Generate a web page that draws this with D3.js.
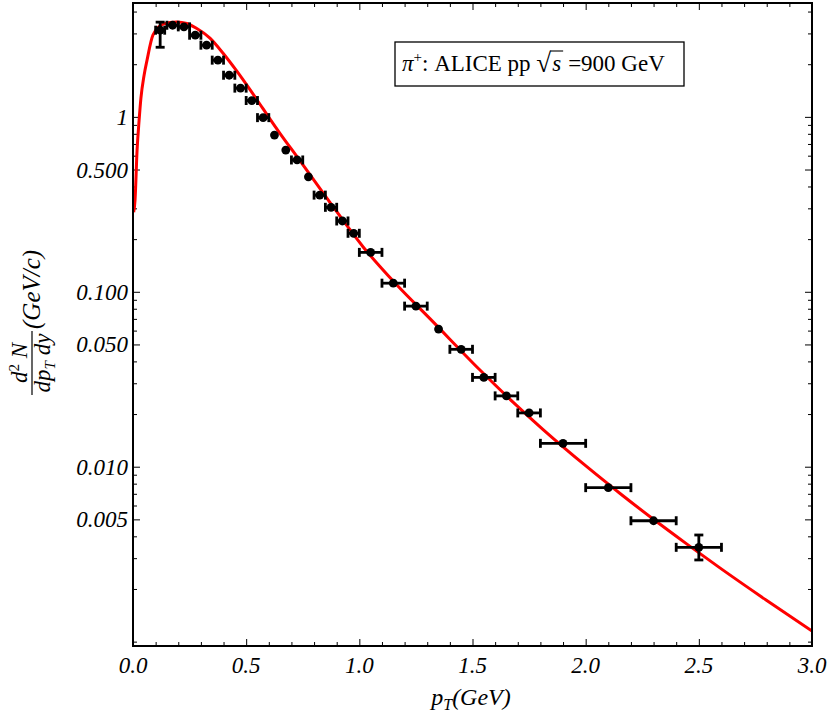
<!DOCTYPE html>
<html>
<head>
<meta charset="utf-8">
<script src="https://cdn.jsdelivr.net/npm/d3@7"></script>
<style>
  body { margin: 0; background: #fff; }
  text { font-family: "Liberation Serif", "Times New Roman", serif; white-space: pre; }
</style>
</head>
<body>
<script>

// ALICE pi+ points
var pTData   = [0.12, 0.175, 0.225, 0.275, 0.325, 0.375, 0.425, 0.475, 0.525, 0.575,
                0.625, 0.675, 0.725, 0.775, 0.825, 0.875, 0.925, 0.975,
                1.05, 1.15, 1.25, 1.35, 1.45, 1.55, 1.65, 1.75, 1.9, 2.1, 2.3, 2.5];
var yieldData = [3.13, 3.34, 3.27, 2.93, 2.57, 2.11, 1.73, 1.46, 1.24, 0.99,
                 0.787, 0.646, 0.567, 0.454, 0.357, 0.304, 0.254, 0.216,
                 0.168, 0.112, 0.0828, 0.0612, 0.0469, 0.0324, 0.0254, 0.0203, 0.0136, 0.00759, 0.00491, 0.00346];
var pTErr    = [0.02, 0.025, 0.025, 0.025, 0.025, 0.025, 0.025, 0.025, 0.025, 0.025,
                0, 0, 0.025, 0, 0.025, 0.025, 0.025, 0.025,
                0.05, 0.05, 0.05, 0, 0.05, 0.05, 0.05, 0.05, 0.1, 0.1, 0.1, 0.1];
// vertical error ends (only two are visible)
var yieldLo  = {0: 2.50, 29: 0.00293};
var yieldHi  = {0: 3.48, 29: 0.00407};

// fitted curve
var curvePT = [0.003, 0.009, 0.018, 0.027, 0.035, 0.049, 0.062, 0.088, 0.133, 0.193,
               0.238, 0.282, 0.340, 0.398, 0.458, 0.517, 0.575, 0.650, 0.723, 0.782,
               0.870, 1.016, 1.165, 1.313, 1.533, 1.679, 1.812, 2.005, 2.152, 2.298,
               2.446, 2.593, 2.797, 3.0];
var curveY  = [0.285, 0.334, 0.645, 0.957, 1.28, 1.73, 2.11, 2.93, 3.39, 3.49,
               3.42, 3.20, 2.82, 2.31, 1.83, 1.43, 1.11, 0.803, 0.596, 0.468,
               0.325, 0.181, 0.1096, 0.0700, 0.0357, 0.0234, 0.0163, 0.0100, 0.00703, 0.00502,
               0.00362, 0.00264, 0.00173, 0.00115];

// ticks
var xMajor = [0, 0.5, 1.0, 1.5, 2.0, 2.5, 3.0];
var xMinor = d3.range(1, 30).map(function (i) { return i / 10; }).filter(function (v) { return Math.round(v * 10) % 5 != 0; });
var yMajor = [1, 0.5, 0.1, 0.05, 0.01, 0.005];
var yMajorLabels = ["1", "0.500", "0.100", "0.050", "0.010", "0.005"];
var yMinor = [0.001, 0.002, 0.003, 0.004, 0.006, 0.007, 0.008, 0.009,
              0.02, 0.03, 0.04, 0.06, 0.07, 0.08, 0.09,
              0.2, 0.3, 0.4, 0.6, 0.7, 0.8, 0.9, 2, 3, 4];

var W = 830, H = 723;
var L = 133, R = 812, T = 3, B = 646;

var svg = d3.select('body').append('svg')
  .attr('width', W)
  .attr('height', H);

var x = d3.scaleLinear().domain([0, 3]).range([L, R]);
var y = d3.scaleLog().domain([Math.pow(10, -3.025), Math.pow(10, 0.651)]).range([B, T]);

svg.append('clipPath').attr('id', 'plotclip')
  .append('rect').attr('x', L).attr('y', T).attr('width', R - L).attr('height', B - T);

// ---- ticks (inward, on all four sides)
function tickAxis(axisFn, scale, vals, len, pos) {
  var g = svg.append('g').attr('transform', pos)
    .call(axisFn(scale).tickValues(vals).tickSize(-len).tickFormat(''));
  g.select('.domain').remove();
  g.selectAll('line').attr('stroke', '#000').attr('stroke-width', 1);
  return g;
}
tickAxis(d3.axisBottom, x, xMinor, 4, `translate(0,${B})`);
tickAxis(d3.axisBottom, x, xMajor, 7, `translate(0,${B})`);
tickAxis(d3.axisTop, x, xMinor, 4, `translate(0,${T})`);
tickAxis(d3.axisTop, x, xMajor, 7, `translate(0,${T})`);
tickAxis(d3.axisLeft, y, yMinor, 4, `translate(${L},0)`);
tickAxis(d3.axisLeft, y, yMajor, 7, `translate(${L},0)`);
tickAxis(d3.axisRight, y, yMinor, 4, `translate(${R},0)`);
tickAxis(d3.axisRight, y, yMajor, 7, `translate(${R},0)`);

// ---- tick labels
svg.append('g').selectAll('text').data(xMajor).enter().append('text')
  .attr('x', function (d) { return x(d); })
  .attr('y', B + 27)
  .attr('text-anchor', 'middle')
  .attr('font-size', 23)
  .attr('font-style', 'italic')
  .text(function (d) { return d.toFixed(1); });

svg.append('g').selectAll('text').data(yMajor).enter().append('text')
  .attr('x', L - 5)
  .attr('y', function (d) { return y(d); })
  .attr('dy', '0.35em')
  .attr('text-anchor', 'end')
  .attr('font-size', 23)
  .attr('font-style', 'italic')
  .text(function (d, i) { return yMajorLabels[i]; });

// ---- curve
var line = d3.line()
  .x(function (d) { return x(d[0]); })
  .y(function (d) { return y(d[1]); })
  .curve(d3.curveMonotoneX);

svg.append('path')
  .datum(curvePT.map(function (p, i) { return [p, curveY[i]]; }))
  .attr('clip-path', 'url(#plotclip)')
  .attr('d', line)
  .attr('fill', 'none')
  .attr('stroke', '#ff0000')
  .attr('stroke-width', 3);

// ---- data points with error bars
var pts = svg.append('g');
pTData.forEach(function (p, i) {
  var cx = x(p), cy = y(yieldData[i]);
  var e = pTErr[i];
  if (e > 0) {
    var x1 = x(p - e), x2 = x(p + e);
    pts.append('line').attr('x1', x1).attr('x2', x2).attr('y1', cy).attr('y2', cy);
    pts.append('line').attr('x1', x1).attr('x2', x1).attr('y1', cy - 4.5).attr('y2', cy + 4.5);
    pts.append('line').attr('x1', x2).attr('x2', x2).attr('y1', cy - 4.5).attr('y2', cy + 4.5);
  }
  if (yieldLo[i] !== undefined) {
    var y1 = y(yieldLo[i]), y2 = y(yieldHi[i]);
    pts.append('line').attr('x1', cx).attr('x2', cx).attr('y1', y1).attr('y2', y2);
    pts.append('line').attr('x1', cx - 4.5).attr('x2', cx + 4.5).attr('y1', y1).attr('y2', y1);
    pts.append('line').attr('x1', cx - 4.5).attr('x2', cx + 4.5).attr('y1', y2).attr('y2', y2);
  }
  pts.append('circle').attr('cx', cx).attr('cy', cy).attr('r', 4.4).attr('fill', '#000');
});
pts.selectAll('line').attr('stroke', '#000').attr('stroke-width', 2.8);

// ---- frame
svg.append('rect')
  .attr('x', L).attr('y', T).attr('width', R - L).attr('height', B - T)
  .attr('fill', 'none').attr('stroke', '#000').attr('stroke-width', 2);

// ---- legend box
var leg = svg.append('g');
leg.append('rect')
  .attr('x', 395).attr('y', 42).attr('width', 289).attr('height', 44)
  .attr('fill', '#fff').attr('stroke', '#000').attr('stroke-width', 1.3);

var lx = 402, ly = 71, fs = 23;
var t1 = leg.append('text').attr('x', lx).attr('y', ly).attr('font-size', fs);
t1.append('tspan').attr('font-style', 'italic').text('π');
t1.append('tspan').attr('font-size', 15).attr('dy', -9).text('+');
t1.append('tspan').attr('dy', 9).text(': ALICE pp ');
var w0 = t1.node().getComputedTextLength();
var rad = leg.append('text').attr('x', lx + w0).attr('y', ly + 1).attr('font-size', 27).text('√');
var wr = rad.node().getComputedTextLength();
var w1 = w0 + wr;
var t2 = leg.append('text').attr('x', lx + w1 + 1).attr('y', ly).attr('font-size', fs)
  .attr('font-style', 'italic').text('s');
var w2 = t2.node().getComputedTextLength();
leg.append('line')
  .attr('x1', lx + w1 - 1).attr('x2', lx + w1 + w2 + 3)
  .attr('y1', ly - 20).attr('y2', ly - 20)
  .attr('stroke', '#000').attr('stroke-width', 1.1);
leg.append('text').attr('x', lx + w1 + w2 + 8).attr('y', ly).attr('font-size', fs)
  .text('=900 GeV');

// ---- x axis title
var xt = svg.append('text')
  .attr('x', 471).attr('y', 705)
  .attr('text-anchor', 'middle')
  .attr('font-size', 24)
  .attr('font-style', 'italic');
xt.append('tspan').text('p');
xt.append('tspan').attr('font-size', 16).attr('dy', 5).text('T');
xt.append('tspan').attr('dy', -5).text('(GeV)');

// ---- y axis title (rotated fraction)
var yt = svg.append('g').attr('transform', 'translate(32,363) rotate(-90)');
yt.append('line').attr('x1', -32).attr('x2', 32).attr('y1', 0).attr('y2', 0)
  .attr('stroke', '#000').attr('stroke-width', 1.2);
var num = yt.append('text').attr('x', 0).attr('y', -5)
  .attr('text-anchor', 'middle').attr('font-size', 23);
num.append('tspan').attr('font-style', 'italic').text('d');
num.append('tspan').attr('font-size', 15).attr('dy', -8).text('2');
num.append('tspan').attr('dy', 8).attr('font-style', 'italic').text(' N');
var den = yt.append('text').attr('x', 0).attr('y', 18)
  .attr('text-anchor', 'middle').attr('font-size', 23).attr('font-style', 'italic');
den.append('tspan').text('dp');
den.append('tspan').attr('font-size', 15).attr('dy', 5).text('T');
den.append('tspan').attr('dy', -5).text(' dy');
yt.append('text').attr('x', 34).attr('y', 8)
  .attr('font-size', 25).attr('font-style', 'italic')
  .text('(GeV/c)');

</script>
</body>
</html>
